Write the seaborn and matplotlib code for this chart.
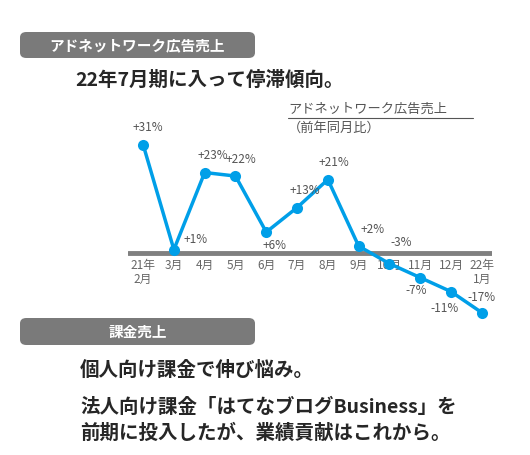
import matplotlib.pyplot as plt
import seaborn as sns
from matplotlib.patches import FancyBboxPatch

sns.set_style("white")
plt.rcParams['font.family'] = ['Noto Sans CJK JP', 'DejaVu Sans']

months = ["21年\n2月", "3月", "4月", "5月", "6月", "7月", "8月", "9月", "10月", "11月", "12月", "22年\n1月"]
values = [31, 1, 23, 22, 6, 13, 21, 2, -3, -7, -11, -17]
labels = ["+31%", "+1%", "+23%", "+22%", "+6%", "+13%", "+21%", "+2%", "-3%", "-7%", "-11%", "-17%"]
# label offsets in pixels (dx, dy)
offsets = [(5, 17), (22, 10), (8, 17), (5, 17), (8, -13), (8, 17), (6, 17), (14, 17), (12, 21), (-4, -13), (-6, -17), (0, 15)]

blue = "#009FE8"
W, H = 530, 455
fig = plt.figure(figsize=(5.3, 4.55), dpi=100)

def fx(px):
    return px / W

def fy(py):
    return 1 - py / H

def banner(x0, y0, x1, y1, text):
    p = FancyBboxPatch((fx(x0), fy(y1)), fx(x1 - x0), (y1 - y0) / H,
                       boxstyle="round,pad=0,rounding_size=0.012",
                       transform=fig.transFigure, facecolor="#7a7a7a", edgecolor="none")
    fig.patches.append(p)
    fig.text(fx((x0 + x1) / 2), fy((y0 + y1) / 2), text, color="white", fontsize=10.5,
             fontweight="bold", ha="center", va="center")

banner(20, 32, 255, 58, "アドネットワーク広告売上")
fig.text(fx(75), fy(80), "22年7月期に入って停滞傾向。", fontsize=14, fontweight="bold", va="center")

ax = fig.add_axes([fx(128), fy(320), fx(364), 200 / H])
ax.set_xlim(-0.49, 11.33)
ax.set_ylim(-19.1, 38)
ax.axhline(0, color="#808080", lw=3.5, zorder=1)
sns.lineplot(x=list(range(len(values))), y=values, ax=ax, color=blue, lw=2.5,
             marker="o", markersize=8, markeredgewidth=0, zorder=3)
for i, (v, lab, off) in enumerate(zip(values, labels, offsets)):
    ax.annotate(lab, (i, v), xytext=off, textcoords="offset pixels", ha="center",
                va="center", fontsize=8.5, color="#555555")
for i, m in enumerate(months):
    ax.text(i, -1.8, m, ha="center", va="top", fontsize=8.5, color="#666666", linespacing=1.1, zorder=2)
ax.set_axis_off()

fig.text(fx(288), fy(109), "アドネットワーク広告売上", fontsize=9.5, color="#555555", va="center")
fig.add_artist(plt.Line2D([fx(288), fx(473)], [fy(118), fy(118)], color="#555555", lw=0.8,
                          transform=fig.transFigure))
fig.text(fx(288), fy(128), "（前年同月比）", fontsize=9.5, color="#555555", va="center")

banner(20, 318, 255, 345, "課金売上")
fig.text(fx(80), fy(370), "個人向け課金で伸び悩み。", fontsize=14, fontweight="bold", va="center")
fig.text(fx(80), fy(407), "法人向け課金「はてなブログBusiness」を", fontsize=14, fontweight="bold", va="center")
fig.text(fx(80), fy(433), "前期に投入したが、業績貢献はこれから。", fontsize=14, fontweight="bold", va="center")

fig.savefig("out.png", dpi=100)
